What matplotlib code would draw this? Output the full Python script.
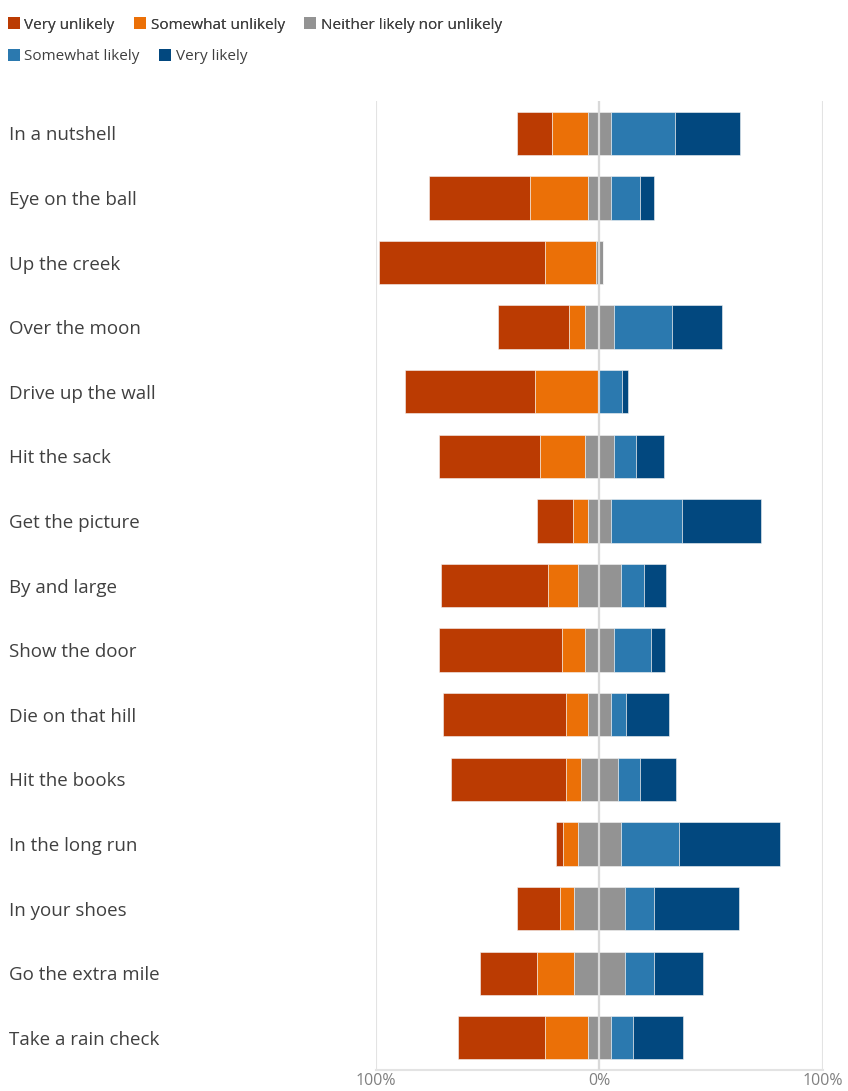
import matplotlib.pyplot as plt
import numpy as np
from matplotlib.patches import Patch

plt.rcParams['font.family'] = ['Open Sans', 'DejaVu Sans']

categories = ["In a nutshell", "Eye on the ball", "Up the creek", "Over the moon",
              "Drive up the wall", "Hit the sack", "Get the picture", "By and large",
              "Show the door", "Die on that hill", "Hit the books", "In the long run",
              "In your shoes", "Go the extra mile", "Take a rain check"]

very_unlikely = [16, 45, 74, 32, 58, 45, 16, 48, 55, 55, 51.5, 3, 19, 25.5, 38.5]
somewhat_unlikely = [16, 26, 23, 7, 29, 20, 7, 13, 10, 10, 6.5, 6.5, 6.5, 16.5, 19.5]
neutral = [10, 10, 3, 13, 0, 13, 10, 19.5, 13, 10, 16.5, 19.5, 22.5, 22.5, 10]
somewhat_likely = [29, 13, 0, 26, 10, 10, 32, 10, 16.5, 7, 10, 26, 13, 13, 10]
very_likely = [29, 6.5, 0, 22.5, 3, 12.5, 35.5, 10, 6.5, 19, 16, 45, 38, 22, 22.5]

series_names = ["Very unlikely", "Somewhat unlikely", "Neither likely nor unlikely",
                "Somewhat likely", "Very likely"]
colors = ["#bb3b02", "#eb7007", "#939393", "#2b79af", "#02487f"]

tick_values = [-100, 0, 100]
tick_labels = ["100%", "0%", "100%"]


def main():
    fig = plt.figure(figsize=(8.48, 10.91), dpi=100)
    ax = fig.add_axes([0.4431, 0.0192, 0.5274, 0.8882])

    series = [very_unlikely, somewhat_unlikely, neutral, somewhat_likely, very_likely]
    data = np.array(series, dtype=float)
    y = np.arange(len(categories))
    left = -(data[0] + data[1] + data[2] / 2)
    for vals, col in zip(data, colors):
        ax.barh(y, vals, left=left, height=0.67, color=col, edgecolor='#f4f4f4',
                linewidth=0.4, zorder=3)
        left = left + vals

    ax.axvline(0, color='#d9d9d9', lw=1.6, zorder=5)

    ax.set_xlim(-100, 100)
    ax.set_ylim(len(categories) - 0.5, -0.5)
    ax.set_xticks(tick_values)
    ax.set_xticklabels(tick_labels)
    ax.grid(axis='x', color='#e3e3e3', lw=1.5, zorder=0)
    ax.tick_params(axis='x', length=0, pad=2, labelsize=11.5, labelcolor='#808080')

    ax.set_yticks(y)
    ax.set_yticklabels(categories)
    ax.tick_params(axis='y', length=0, pad=264, labelsize=13.5, labelcolor='#404040')
    for lab in ax.get_yticklabels():
        lab.set_horizontalalignment('left')

    for s in ['top', 'left', 'right']:
        ax.spines[s].set_visible(False)
    ax.spines['bottom'].set_color('#e3e3e3')
    ax.spines['bottom'].set_linewidth(1.5)
    ax.spines['bottom'].set_bounds(-100, 100)

    handles = [Patch(facecolor=c, edgecolor='none') for c in colors]
    leg_kw = dict(loc='upper left', frameon=False, fontsize=11, handlelength=0.8,
                  handleheight=0.8, handletextpad=0.3, columnspacing=1.25,
                  borderaxespad=0, borderpad=0, labelcolor='#404040')
    leg1 = fig.legend(handles[:3], series_names[:3], ncol=3,
                      bbox_to_anchor=(0.009, 0.984), **leg_kw)
    fig.add_artist(leg1)
    fig.legend(handles[3:], series_names[3:], ncol=2,
               bbox_to_anchor=(0.009, 0.955), **leg_kw)

    fig.savefig('out.png', dpi=100)


if __name__ == '__main__':
    main()
